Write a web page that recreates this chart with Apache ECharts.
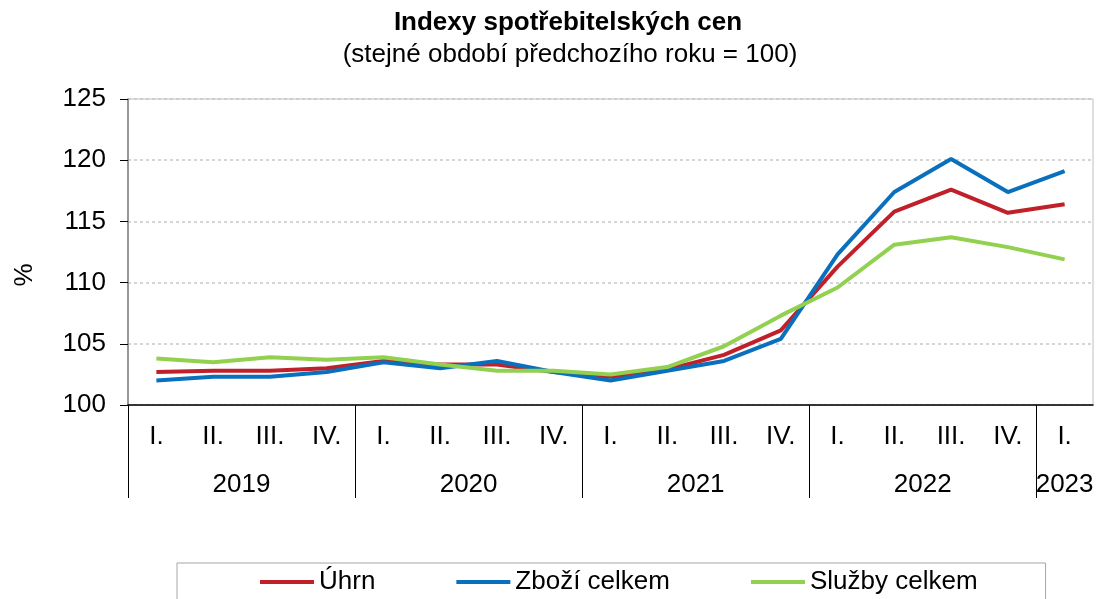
<!DOCTYPE html>
<html>
<head>
<meta charset="utf-8">
<script src="https://cdn.jsdelivr.net/npm/echarts@6/dist/echarts.min.js"></script>
<style>
html,body{margin:0;padding:0;background:#fff;}
#c{width:1099px;height:599px;}
</style>
</head>
<body>
<div id="c"></div>
<script>
var quarters = ['I.','II.','III.','IV.','I.','II.','III.','IV.','I.','II.','III.','IV.','I.','II.','III.','IV.','I.'];
var years = ['2019','2020','2021','2022','2023'];
var yearQuarterCounts = [4,4,4,4,1];
var uhrn   = [102.7,102.8,102.8,103.0, 103.6,103.3,103.3,102.7, 102.3,102.9,104.1,106.1, 111.3,115.8,117.6,115.7, 116.4];
var zbozi  = [102.0,102.3,102.3,102.7, 103.5,103.0,103.6,102.7, 102.0,102.8,103.6,105.4, 112.3,117.4,120.1,117.4, 119.1];
var sluzby = [103.8,103.5,103.9,103.7, 103.9,103.3,102.8,102.8, 102.5,103.1,104.8,107.3, 109.6,113.1,113.7,112.9, 111.9];
var seriesNames = ['Úhrn','Zboží celkem','Služby celkem'];

// boundaries and centers of year groups on a 0..N value scale
var bounds = [0], centers = [], yearMap = {};
var acc = 0;
yearQuarterCounts.forEach(function(n, i){
  centers.push(acc + n/2);
  yearMap[acc + n/2] = years[i];
  acc += n;
  bounds.push(acc);
});
var tickBounds = bounds.slice(0, bounds.length-1);

var FONT = 'Liberation Sans, Arial, sans-serif';
var FS = 26;
var chart = echarts.init(document.getElementById('c'));
chart.setOption({
  animation: false,
  backgroundColor: '#fff',
  title: [
    {text: 'Indexy spotřebitelských cen', left: 568, top: 10, padding: 0, textAlign: 'center',
     textStyle: {fontFamily: FONT, fontSize: FS, fontWeight: 'bold', color: '#000'}},
    {text: '(stejné období předchozího roku = 100)', left: 570, top: 42, padding: 0, textAlign: 'center',
     textStyle: {fontFamily: FONT, fontSize: FS, fontWeight: 'normal', color: '#000'}}
  ],
  legend: {
    left: 177, top: 563,
    padding: [6, 68, 30, 83],
    borderColor: '#a6a6a6', borderWidth: 1,
    itemGap: 81, itemWidth: 54, itemHeight: 4, icon: 'rect',
    textStyle: {fontFamily: FONT, fontSize: FS, color: '#000'},
    data: seriesNames
  },
  grid: {left: 128, right: 6, top: 99, bottom: 194, show: true, borderColor: '#bfbfbf', borderWidth: 1},
  xAxis: [
    {type: 'category', data: quarters, boundaryGap: true,
     axisLine: {show: true, lineStyle: {color: '#000', width: 1.5}},
     axisTick: {show: false},
     axisLabel: {fontFamily: FONT, fontSize: FS, color: '#000', margin: 19, interval: 0}},
    {type: 'value', min: 0, max: quarters.length, position: 'bottom',
     splitLine: {show: false},
     axisLine: {show: false},
     axisTick: {show: true, inside: false, length: 93, customValues: tickBounds, lineStyle: {color: '#000', width: 1}},
     axisLabel: {show: true, customValues: centers, margin: 67, fontFamily: FONT, fontSize: FS, color: '#000',
       formatter: function(v){ return yearMap[v] || ''; }}}
  ],
  yAxis: {
    type: 'value', min: 100, max: 125, interval: 5,
    name: '%', nameLocation: 'middle', nameGap: 90, nameRotate: 90,
    nameTextStyle: {fontFamily: FONT, fontSize: FS, color: '#000', padding: [0, 46, 0, 0]},
    axisLine: {show: true, lineStyle: {color: '#7f7f7f', width: 1.5}},
    axisTick: {show: true, inside: false, length: 8, lineStyle: {color: '#000'}},
    axisLabel: {fontFamily: FONT, fontSize: FS, color: '#000', margin: 22},
    splitLine: {show: true, lineStyle: {type: [3,3], color: '#c8c8c8', width: 1.5}}
  },
  series: [
    {name: seriesNames[0], type: 'line', data: uhrn, symbol: 'none', color: '#c0202a', lineStyle: {width: 4, color: '#c0202a'}},
    {name: seriesNames[1], type: 'line', data: zbozi, symbol: 'none', color: '#0a70bd', lineStyle: {width: 4, color: '#0a70bd'}},
    {name: seriesNames[2], type: 'line', data: sluzby, symbol: 'none', color: '#92d050', lineStyle: {width: 4, color: '#92d050'}}
  ]
});
</script>
</body>
</html>
